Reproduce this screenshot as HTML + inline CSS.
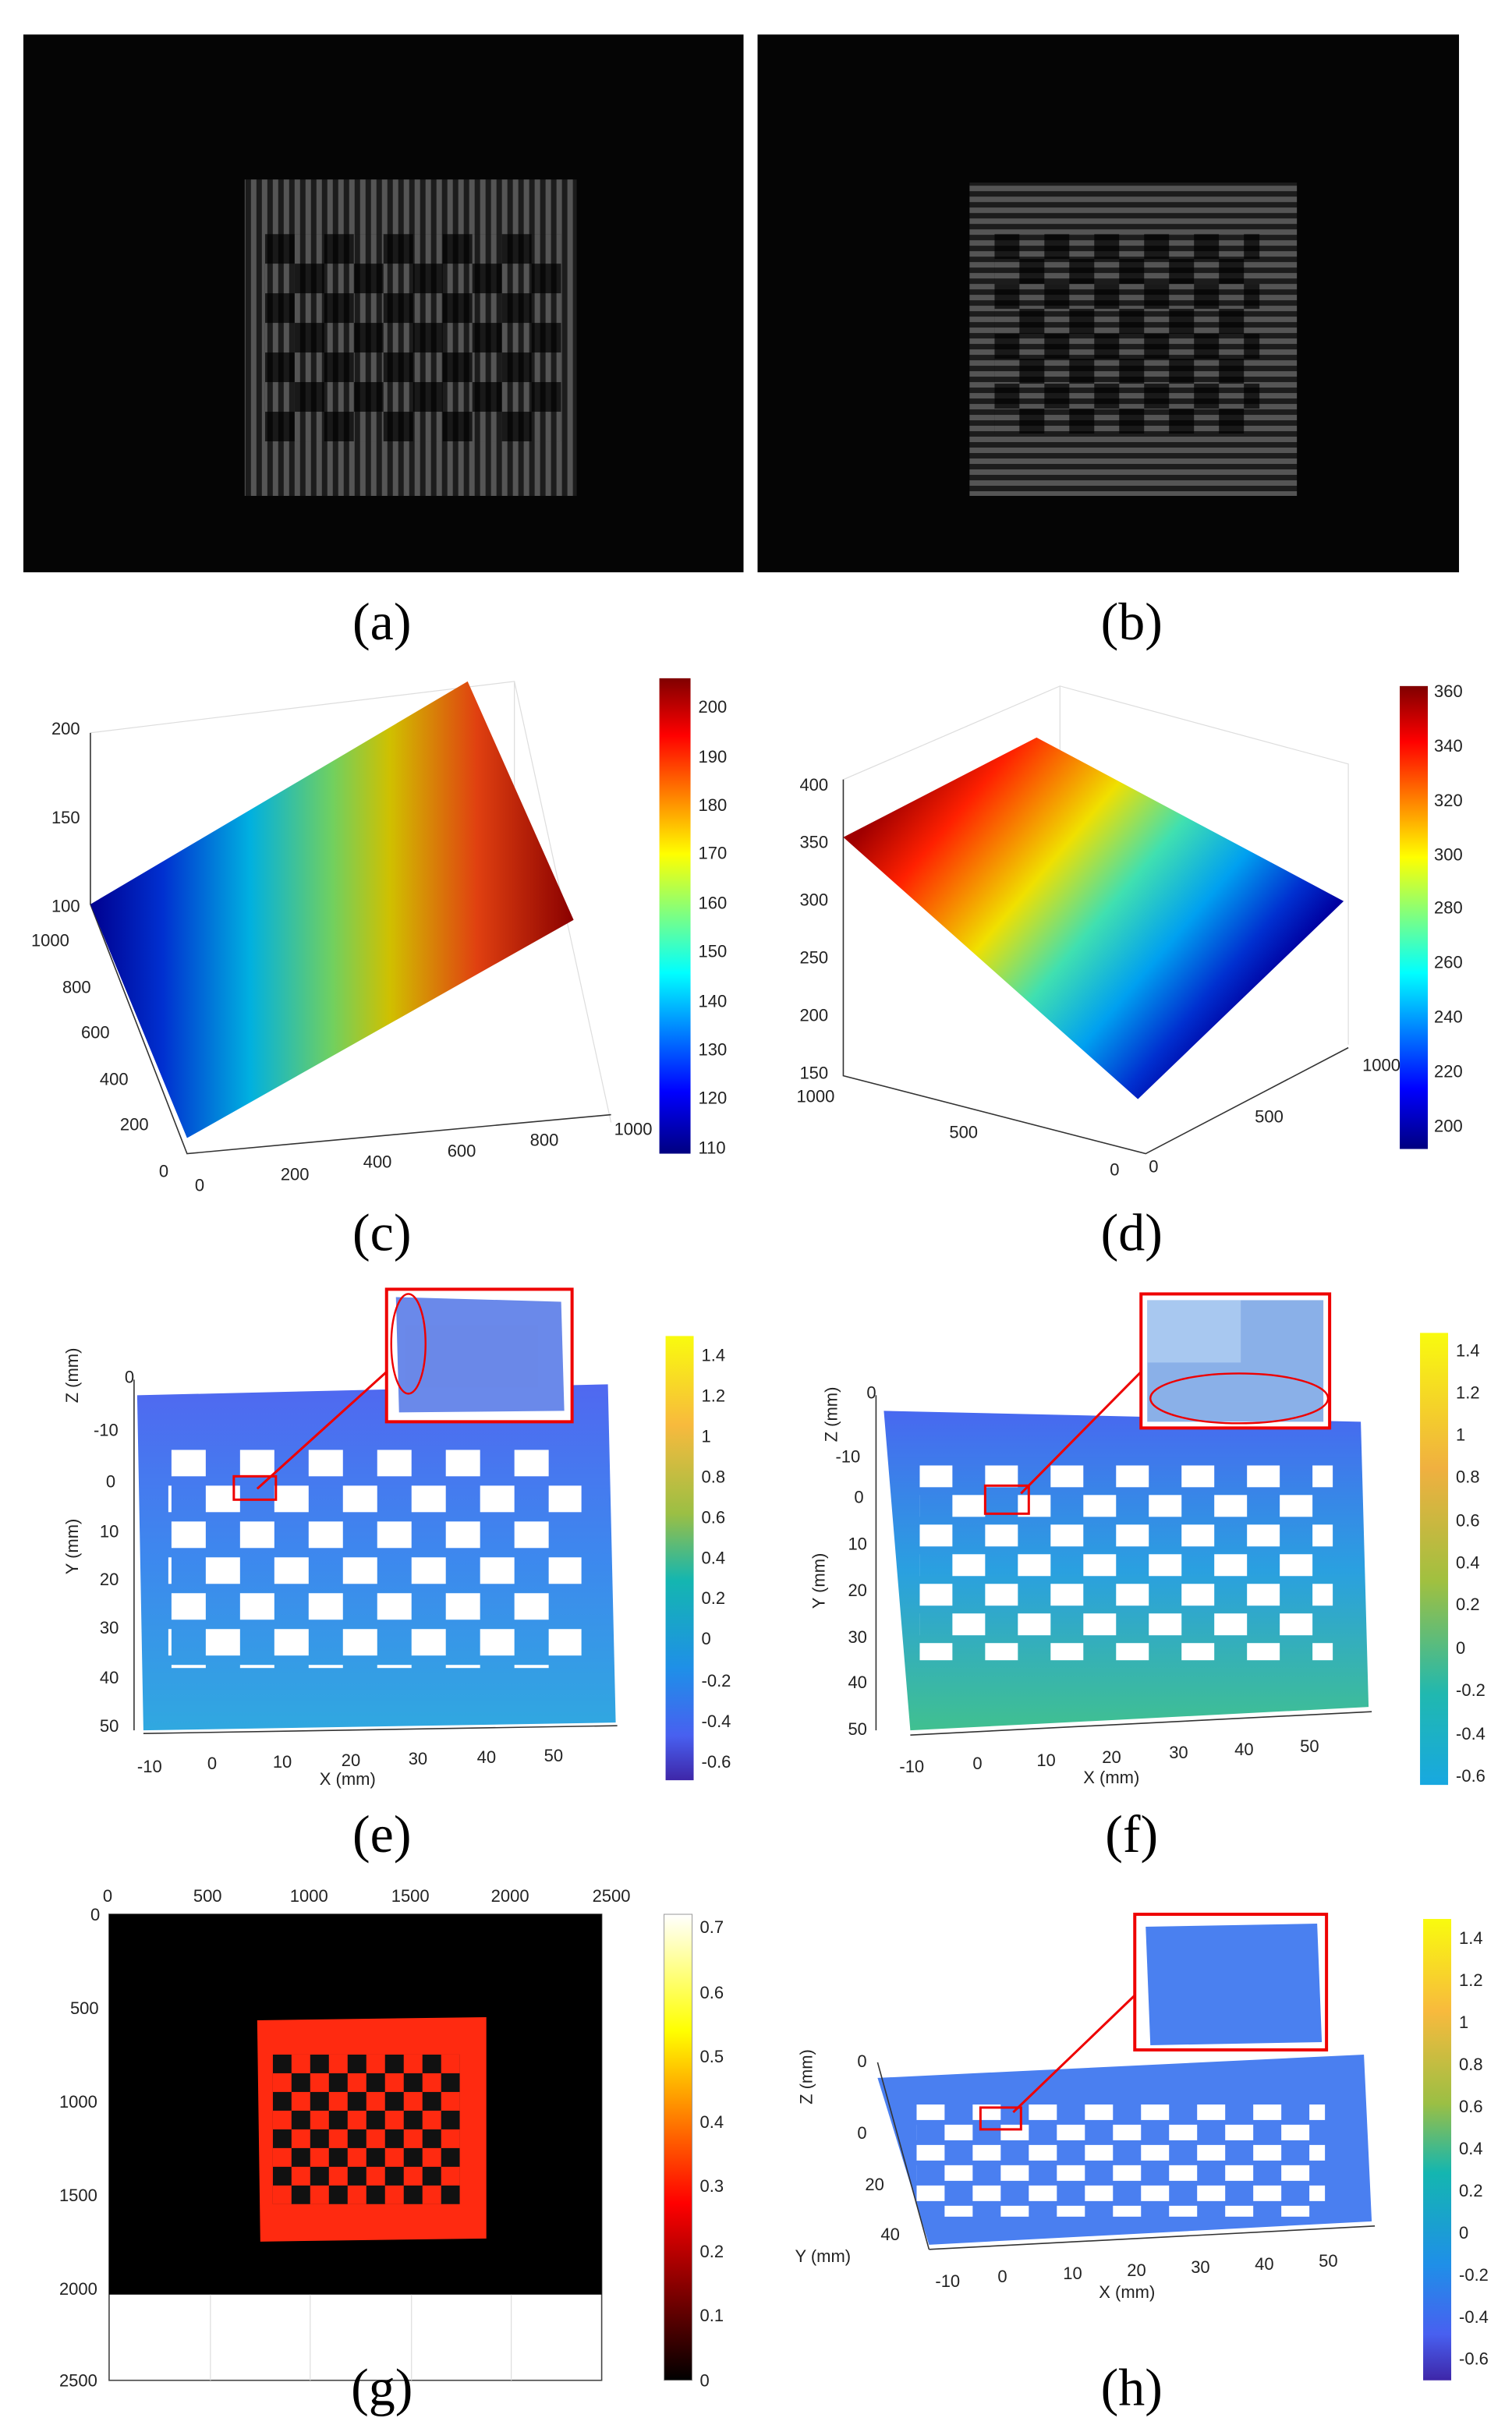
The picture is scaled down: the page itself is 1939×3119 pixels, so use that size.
<!DOCTYPE html>
<html><head><meta charset="utf-8"><style>
html,body{margin:0;padding:0;background:#fff;}
svg{display:block;}
text{font-family:"Liberation Sans",sans-serif;font-size:11px;fill:#222;}
.lab{font-family:"Liberation Serif",serif;font-size:34px;fill:#000;text-anchor:middle;}
.ax{stroke:#333;stroke-width:0.8;fill:none;}
.grid{stroke:#ddd;stroke-width:0.6;fill:none;}
</style></head><body>
<svg width="1939" height="3119" viewBox="0 0 970 1560" xmlns="http://www.w3.org/2000/svg">
<defs>
<pattern id="sv" width="7" height="10" patternUnits="userSpaceOnUse"><rect width="3.5" height="10" fill="#9a9a9a"/></pattern>
<pattern id="sh" width="10" height="7" patternUnits="userSpaceOnUse"><rect width="10" height="3.5" fill="#9a9a9a"/></pattern>
<pattern id="chA" x="170" y="150" width="38" height="38" patternUnits="userSpaceOnUse"><rect width="19" height="19" fill="#000" opacity="0.7"/><rect x="19" y="19" width="19" height="19" fill="#000" opacity="0.7"/></pattern>
<pattern id="chB" x="638" y="150" width="32" height="32" patternUnits="userSpaceOnUse"><rect width="16" height="16" fill="#000" opacity="0.7"/><rect x="16" y="16" width="16" height="16" fill="#000" opacity="0.7"/></pattern>
<pattern id="chE" x="110" y="930" width="44" height="46" patternUnits="userSpaceOnUse"><rect width="22" height="17" fill="#fff"/><rect x="22" y="23" width="22" height="17" fill="#fff"/></pattern>
<pattern id="chF" x="590" y="940" width="42" height="38" patternUnits="userSpaceOnUse"><rect width="21" height="14" fill="#fff"/><rect x="21" y="19" width="21" height="14" fill="#fff"/></pattern>
<pattern id="chH" x="588" y="1350" width="36" height="26" patternUnits="userSpaceOnUse"><rect width="18" height="10" fill="#fff"/><rect x="18" y="13" width="18" height="10" fill="#fff"/></pattern>
<pattern id="chG" x="175" y="1318" width="24" height="24" patternUnits="userSpaceOnUse"><rect width="12" height="12" fill="#111"/><rect x="12" y="12" width="12" height="12" fill="#111"/></pattern>
<linearGradient id="jetH" x1="0" y1="0" x2="1" y2="0"><stop offset="0" stop-color="#00008f"/><stop offset="0.15" stop-color="#0030d0"/><stop offset="0.33" stop-color="#00b0e0"/><stop offset="0.5" stop-color="#70d060"/><stop offset="0.62" stop-color="#d0c000"/><stop offset="0.8" stop-color="#e04010"/><stop offset="1" stop-color="#8a0000"/></linearGradient>
<linearGradient id="jetD" gradientUnits="userSpaceOnUse" x1="590" y1="490" x2="790" y2="660"><stop offset="0" stop-color="#a00000"/><stop offset="0.15" stop-color="#ff2000"/><stop offset="0.4" stop-color="#f0e000"/><stop offset="0.58" stop-color="#40e0b0"/><stop offset="0.75" stop-color="#00a0f0"/><stop offset="0.9" stop-color="#0030d0"/><stop offset="1" stop-color="#0000a0"/></linearGradient>
<linearGradient id="jetV" x1="0" y1="0" x2="0" y2="1"><stop offset="0" stop-color="#800000"/><stop offset="0.12" stop-color="#ff0000"/><stop offset="0.37" stop-color="#ffff00"/><stop offset="0.62" stop-color="#00ffff"/><stop offset="0.87" stop-color="#0000ff"/><stop offset="1" stop-color="#000080"/></linearGradient>
<linearGradient id="par" x1="0" y1="0" x2="0" y2="1"><stop offset="0" stop-color="#f9fb0e"/><stop offset="0.2" stop-color="#f8ba3d"/><stop offset="0.4" stop-color="#9bbf44"/><stop offset="0.55" stop-color="#14b6b0"/><stop offset="0.75" stop-color="#1f8fe8"/><stop offset="0.9" stop-color="#4860f0"/><stop offset="1" stop-color="#3e26a8"/></linearGradient>
<linearGradient id="parF" x1="0" y1="0" x2="0" y2="1"><stop offset="0" stop-color="#f9fb0e"/><stop offset="0.3" stop-color="#f0b040"/><stop offset="0.55" stop-color="#a0c040"/><stop offset="0.8" stop-color="#20b8b0"/><stop offset="1" stop-color="#18a8e0"/></linearGradient>
<linearGradient id="hot" x1="0" y1="1" x2="0" y2="0"><stop offset="0" stop-color="#000"/><stop offset="0.38" stop-color="#ff0000"/><stop offset="0.75" stop-color="#ffff00"/><stop offset="1" stop-color="#ffffff"/></linearGradient>
<linearGradient id="planeE" x1="0" y1="0" x2="0" y2="1"><stop offset="0" stop-color="#5068f0"/><stop offset="0.5" stop-color="#3d88ee"/><stop offset="1" stop-color="#30a8e0"/></linearGradient>
<linearGradient id="planeF" x1="0" y1="0" x2="0" y2="1"><stop offset="0" stop-color="#4868f0"/><stop offset="0.5" stop-color="#2aa0e0"/><stop offset="1" stop-color="#40c090"/></linearGradient>
</defs>

<!-- (a) -->
<rect x="15" y="22" width="462" height="345" fill="#050505"/>
<rect x="157" y="115" width="213" height="203" fill="#1c1c1c"/>
<rect x="157" y="115" width="213" height="203" fill="url(#sv)" opacity="0.45"/>
<rect x="170" y="150" width="190" height="133" fill="url(#chA)"/>
<text class="lab" x="245" y="410">(a)</text>
<!-- (b) -->
<rect x="486" y="22" width="450" height="345" fill="#050505"/>
<rect x="622" y="117" width="210" height="201" fill="#1c1c1c"/>
<rect x="622" y="117" width="210" height="201" fill="url(#sh)" opacity="0.45"/>
<rect x="638" y="150" width="170" height="128" fill="url(#chB)"/>
<text class="lab" x="726" y="410">(b)</text>

<!-- (c) -->
<g>
<polyline class="grid" points="58,470 330,437 392,720"/>
<line class="grid" x1="330" y1="437" x2="330" y2="600"/>
<polyline class="ax" points="58,470 58,580 120,740 392,715"/>
<polygon points="58,580 300,437 368,590 120,730" fill="url(#jetH)"/>
<text x="33" y="471">200</text><text x="33" y="528">150</text><text x="33" y="585">100</text>
<text x="20" y="607">1000</text><text x="40" y="637">800</text><text x="52" y="666">600</text><text x="64" y="696">400</text><text x="77" y="725">200</text><text x="102" y="755">0</text>
<text x="125" y="764">0</text><text x="180" y="757">200</text><text x="233" y="749">400</text><text x="287" y="742">600</text><text x="340" y="735">800</text><text x="394" y="728">1000</text>
<rect x="423" y="435" width="20" height="305" fill="url(#jetV)"/>
<text x="448" y="457">200</text><text x="448" y="489">190</text><text x="448" y="520">180</text><text x="448" y="551">170</text><text x="448" y="583">160</text><text x="448" y="614">150</text><text x="448" y="646">140</text><text x="448" y="677">130</text><text x="448" y="708">120</text><text x="448" y="740">110</text>
</g>
<text class="lab" x="245" y="802">(c)</text>

<!-- (d) -->
<g>
<polyline class="grid" points="541,690 541,500 680,440 865,490 865,670"/>
<line class="grid" x1="680" y1="440" x2="680" y2="640"/>
<polyline class="ax" points="541,500 541,690 735,740 865,672"/>
<polygon points="541,537 665,473 862,578 730,705" fill="url(#jetD)"/>
<text x="513" y="507">400</text><text x="513" y="544">350</text><text x="513" y="581">300</text><text x="513" y="618">250</text><text x="513" y="655">200</text><text x="513" y="692">150</text>
<text x="511" y="707">1000</text><text x="609" y="730">500</text><text x="712" y="754">0</text>
<text x="737" y="752">0</text><text x="805" y="720">500</text><text x="874" y="687">1000</text>
<rect x="898" y="440" width="18" height="297" fill="url(#jetV)"/>
<text x="920" y="447">360</text><text x="920" y="482">340</text><text x="920" y="517">320</text><text x="920" y="552">300</text><text x="920" y="586">280</text><text x="920" y="621">260</text><text x="920" y="656">240</text><text x="920" y="691">220</text><text x="920" y="726">200</text>
</g>
<text class="lab" x="726" y="802">(d)</text>

<!-- (e) -->
<g>
<polygon points="88,895 390,888 395,1105 92,1110" fill="url(#planeE)"/>
<rect x="108" y="930" width="265" height="140" fill="url(#chE)"/>
<line class="ax" x1="92" y1="1112" x2="396" y2="1107"/>
<line class="ax" x1="86" y1="885" x2="86" y2="1110"/>
<text x="80" y="887">0</text><text x="60" y="921">-10</text><text x="68" y="954">0</text><text x="64" y="986">10</text><text x="64" y="1017">20</text><text x="64" y="1048">30</text><text x="64" y="1080">40</text><text x="64" y="1111">50</text>
<text x="88" y="1137">-10</text><text x="133" y="1135">0</text><text x="175" y="1134">10</text><text x="219" y="1133">20</text><text x="262" y="1132">30</text><text x="306" y="1131">40</text><text x="349" y="1130">50</text>
<text x="205" y="1145">X (mm)</text>
<text transform="translate(50,900) rotate(-90)">Z (mm)</text>
<text transform="translate(50,1010) rotate(-90)">Y (mm)</text>
<rect x="150" y="947" width="27" height="15" fill="none" stroke="#e00" stroke-width="1.5"/>
<line x1="165" y1="955" x2="248" y2="880" stroke="#e00" stroke-width="1.5"/>
<rect x="248" y="827" width="119" height="85" fill="#fff" stroke="#e00" stroke-width="2"/>
<polygon points="254,832 360,835 362,905 256,906" fill="#5a7ce8" opacity="0.9"/>
<rect x="260" y="850" width="85" height="40" fill="#6a88e8"/>
<ellipse cx="262" cy="862" rx="11" ry="32" fill="none" stroke="#e00" stroke-width="1.2"/>
<rect x="427" y="857" width="18" height="285" fill="url(#par)"/>
<text x="450" y="873">1.4</text><text x="450" y="899">1.2</text><text x="450" y="925">1</text><text x="450" y="951">0.8</text><text x="450" y="977">0.6</text><text x="450" y="1003">0.4</text><text x="450" y="1029">0.2</text><text x="450" y="1055">0</text><text x="450" y="1082">-0.2</text><text x="450" y="1108">-0.4</text><text x="450" y="1134">-0.6</text>
</g>
<text class="lab" x="245" y="1188">(e)</text>

<!-- (f) -->
<g>
<polygon points="567,905 873,912 878,1095 584,1110" fill="url(#planeF)"/>
<rect x="590" y="940" width="265" height="125" fill="url(#chF)"/>
<line class="ax" x1="584" y1="1113" x2="880" y2="1098"/>
<line class="ax" x1="562" y1="895" x2="562" y2="1110"/>
<text x="556" y="897">0</text><text x="536" y="938">-10</text><text x="548" y="964">0</text><text x="544" y="994">10</text><text x="544" y="1024">20</text><text x="544" y="1054">30</text><text x="544" y="1083">40</text><text x="544" y="1113">50</text>
<text x="577" y="1137">-10</text><text x="624" y="1135">0</text><text x="665" y="1133">10</text><text x="707" y="1131">20</text><text x="750" y="1128">30</text><text x="792" y="1126">40</text><text x="834" y="1124">50</text>
<text x="695" y="1144">X (mm)</text>
<text transform="translate(537,925) rotate(-90)">Z (mm)</text>
<text transform="translate(529,1032) rotate(-90)">Y (mm)</text>
<rect x="632" y="953" width="28" height="18" fill="none" stroke="#e00" stroke-width="1.5"/>
<line x1="655" y1="958" x2="732" y2="880" stroke="#e00" stroke-width="1.5"/>
<rect x="732" y="830" width="121" height="86" fill="#fff" stroke="#e00" stroke-width="2"/>
<rect x="736" y="834" width="113" height="78" fill="#8ab0e8"/>
<rect x="736" y="834" width="60" height="40" fill="#a8c8f0"/>
<ellipse cx="795" cy="897" rx="57" ry="16" fill="none" stroke="#e00" stroke-width="1.2"/>
<rect x="911" y="855" width="18" height="290" fill="url(#parF)"/>
<text x="934" y="870">1.4</text><text x="934" y="897">1.2</text><text x="934" y="924">1</text><text x="934" y="951">0.8</text><text x="934" y="979">0.6</text><text x="934" y="1006">0.4</text><text x="934" y="1033">0.2</text><text x="934" y="1061">0</text><text x="934" y="1088">-0.2</text><text x="934" y="1116">-0.4</text><text x="934" y="1143">-0.6</text>
</g>
<text class="lab" x="726" y="1188">(f)</text>

<!-- (g) -->
<g>
<rect x="70" y="1228" width="316" height="299" fill="#fff" stroke="#444" stroke-width="0.8"/>
<rect x="70" y="1228" width="316" height="244" fill="#000"/>
<polygon points="165,1296 312,1294 312,1436 167,1438" fill="#ff2a10"/>
<rect x="175" y="1318" width="120" height="96" fill="url(#chG)"/>
<g class="grid"><line x1="135" y1="1472" x2="135" y2="1527"/><line x1="199" y1="1472" x2="199" y2="1527"/><line x1="264" y1="1472" x2="264" y2="1527"/><line x1="328" y1="1472" x2="328" y2="1527"/></g>
<text x="66" y="1220">0</text><text x="124" y="1220">500</text><text x="186" y="1220">1000</text><text x="251" y="1220">1500</text><text x="315" y="1220">2000</text><text x="380" y="1220">2500</text>
<text x="58" y="1232">0</text><text x="45" y="1292">500</text><text x="38" y="1352">1000</text><text x="38" y="1412">1500</text><text x="38" y="1472">2000</text><text x="38" y="1531">2500</text>
<rect x="426" y="1228" width="18" height="299" fill="url(#hot)" stroke="#999" stroke-width="0.5"/>
<text x="449" y="1240">0.7</text><text x="449" y="1282">0.6</text><text x="449" y="1323">0.5</text><text x="449" y="1365">0.4</text><text x="449" y="1406">0.3</text><text x="449" y="1448">0.2</text><text x="449" y="1489">0.1</text><text x="449" y="1531">0</text>
</g>
<text class="lab" x="245" y="1543">(g)</text>

<!-- (h) -->
<g>
<polygon points="563,1333 875,1318 880,1425 596,1440" fill="#4a7ff0"/>
<rect x="588" y="1350" width="262" height="72" fill="url(#chH)"/>
<line class="ax" x1="596" y1="1443" x2="882" y2="1428"/>
<line class="ax" x1="563" y1="1323" x2="596" y2="1443"/>
<text x="550" y="1326">0</text><text x="550" y="1372">0</text><text x="555" y="1405">20</text><text x="565" y="1437">40</text>
<text x="510" y="1451">Y (mm)</text>
<text transform="translate(521,1350) rotate(-90)">Z (mm)</text>
<text x="600" y="1467">-10</text><text x="640" y="1464">0</text><text x="682" y="1462">10</text><text x="723" y="1460">20</text><text x="764" y="1458">30</text><text x="805" y="1456">40</text><text x="846" y="1454">50</text>
<text x="705" y="1474">X (mm)</text>
<rect x="629" y="1352" width="26" height="14" fill="none" stroke="#e00" stroke-width="1.5"/>
<line x1="650" y1="1355" x2="728" y2="1280" stroke="#e00" stroke-width="1.5"/>
<rect x="728" y="1228" width="123" height="87" fill="#fff" stroke="#e00" stroke-width="2"/>
<polygon points="735,1236 845,1234 848,1310 738,1312" fill="#4a80f0"/>
<rect x="913" y="1231" width="18" height="296" fill="url(#par)"/>
<text x="936" y="1247">1.4</text><text x="936" y="1274">1.2</text><text x="936" y="1301">1</text><text x="936" y="1328">0.8</text><text x="936" y="1355">0.6</text><text x="936" y="1382">0.4</text><text x="936" y="1409">0.2</text><text x="936" y="1436">0</text><text x="936" y="1463">-0.2</text><text x="936" y="1490">-0.4</text><text x="936" y="1517">-0.6</text>
</g>
<text class="lab" x="726" y="1543">(h)</text>
</svg>
</body></html>
